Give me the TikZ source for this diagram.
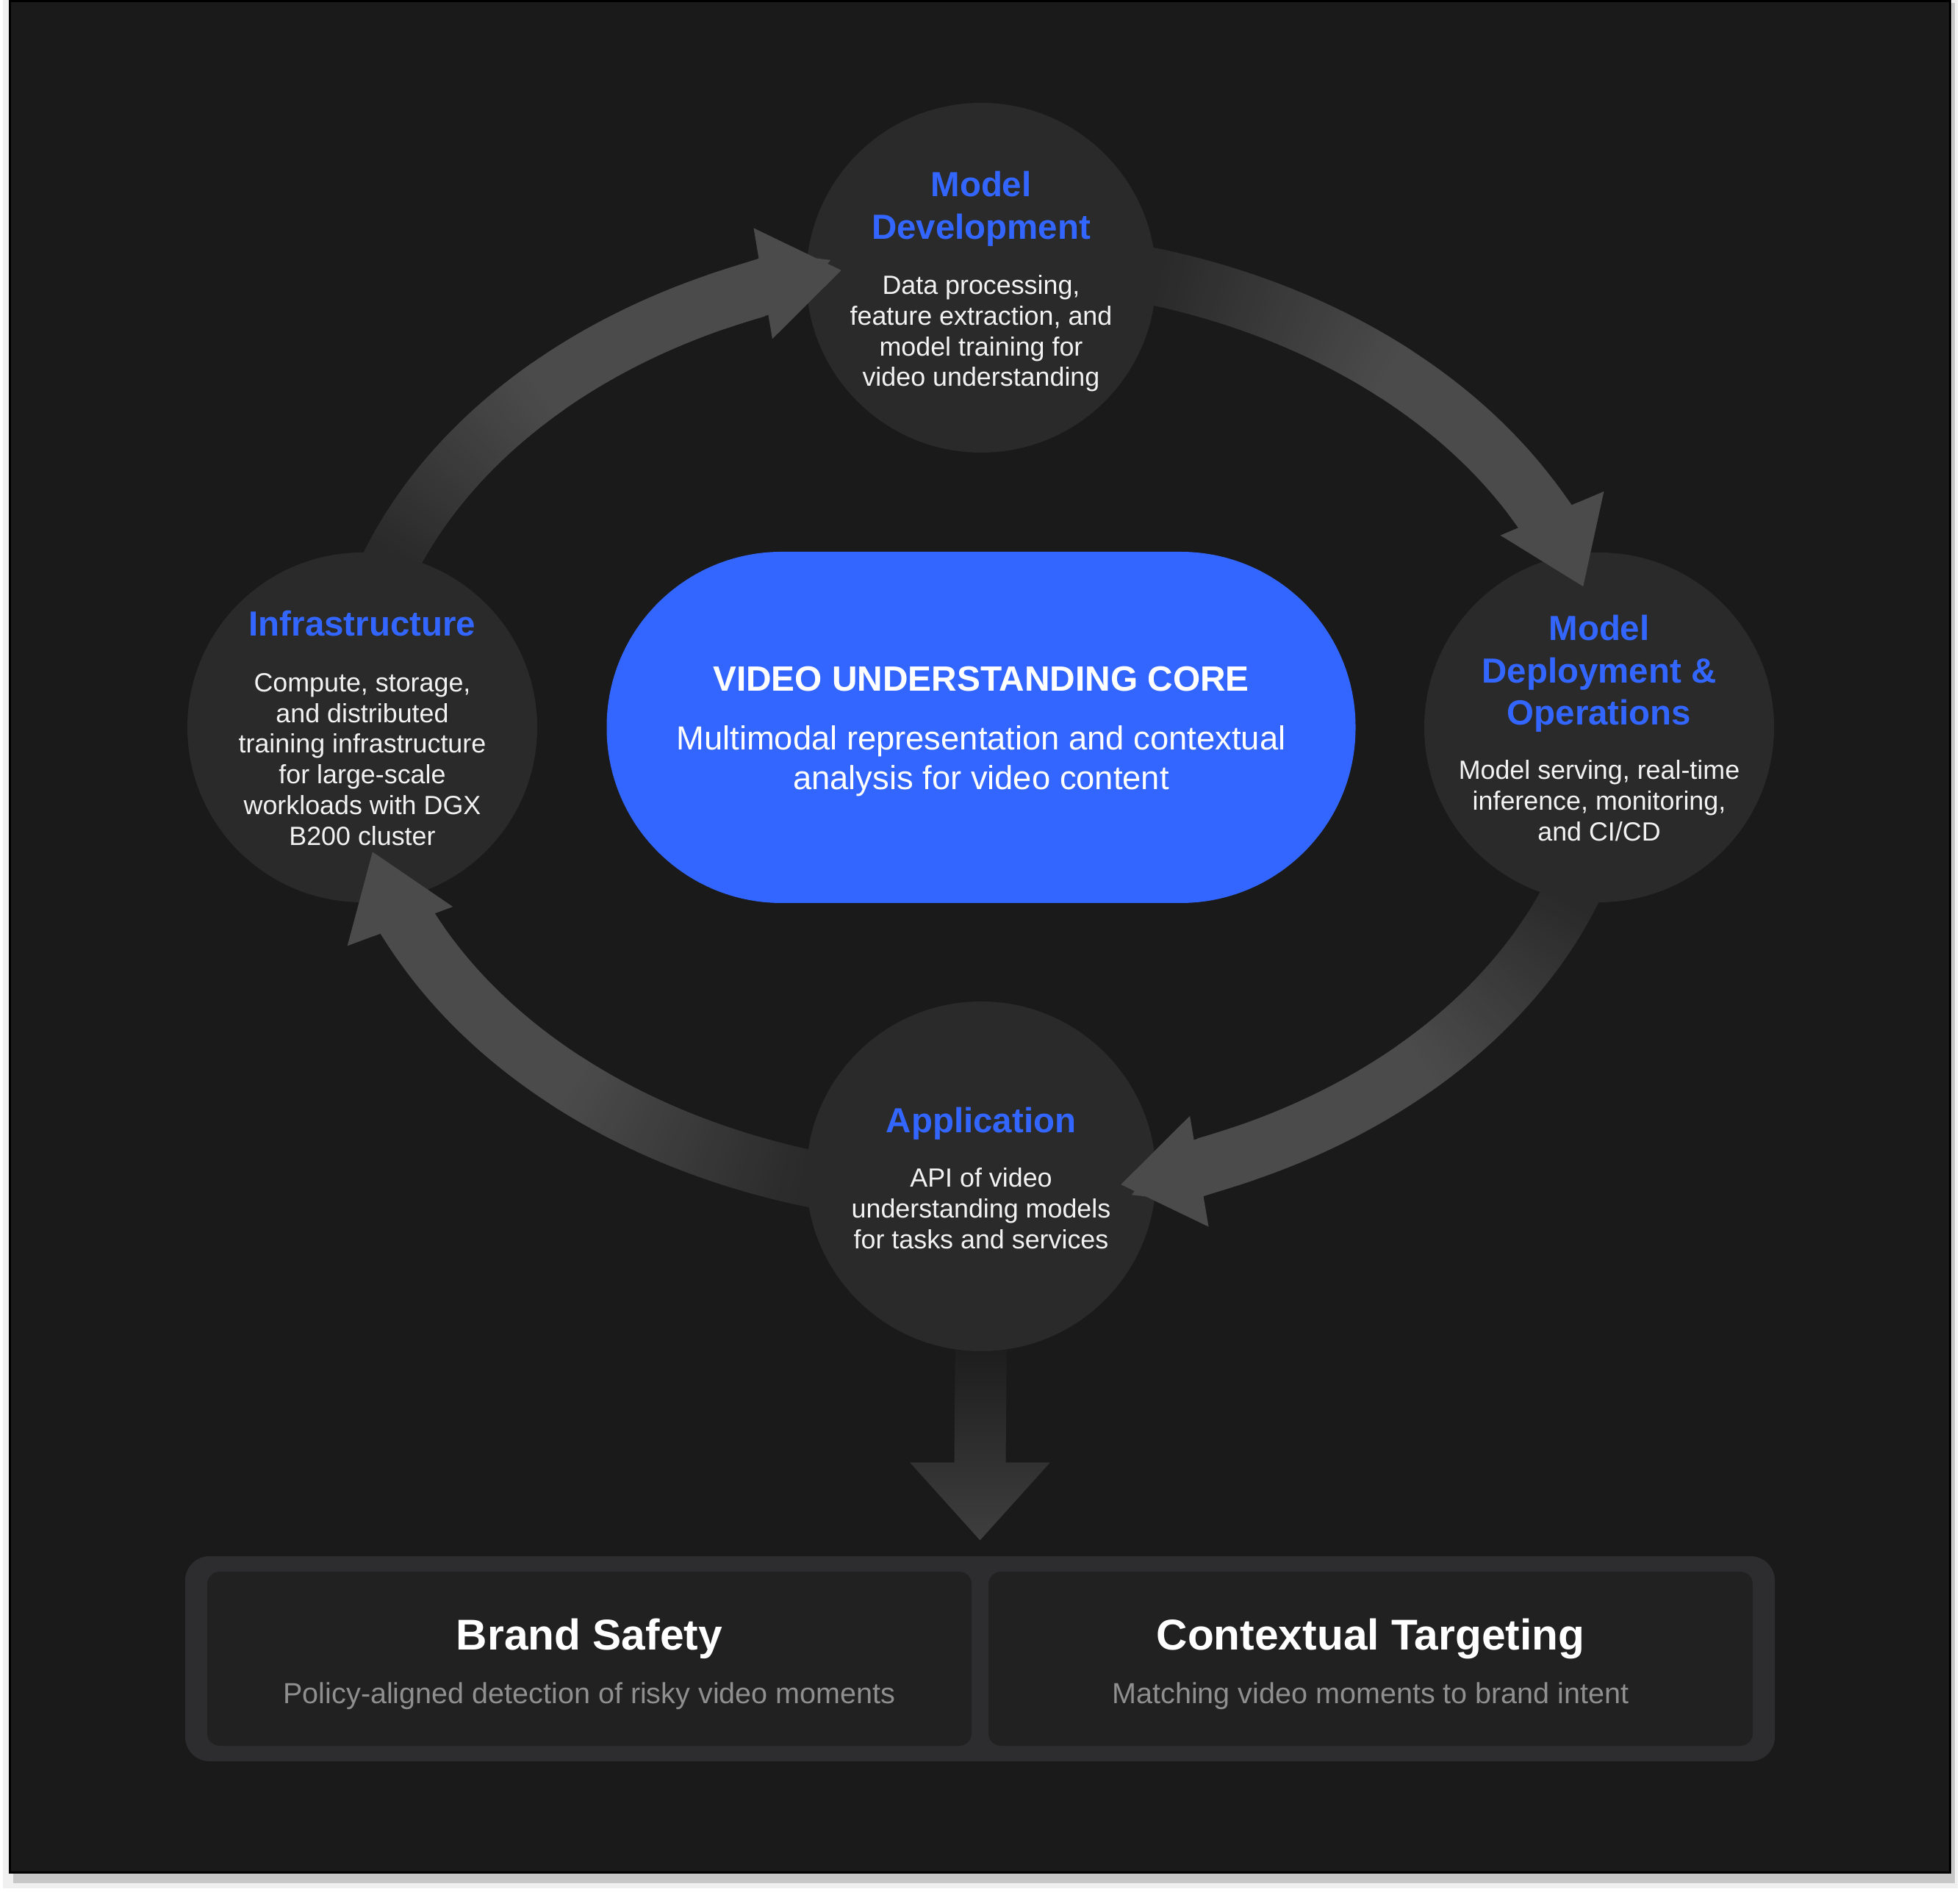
\documentclass[tikz,border=0pt]{standalone}
\usepackage{fontspec}
\setmainfont{Liberation Sans}
\usepackage{xcolor}
\usepackage{tikz}
\usetikzlibrary{arrows.meta, positioning, calc, backgrounds}

\definecolor{panelbg}{HTML}{1A1A1A}
\definecolor{ringgray}{HTML}{2A2A2A}
\definecolor{arrowgray}{HTML}{4B4B4B}
\definecolor{coreblue}{HTML}{3366FF}
\definecolor{titleblue}{HTML}{3366FF}
\definecolor{textwhite}{HTML}{F2F2F2}
\definecolor{trayfill}{HTML}{2D2C2E}
\definecolor{cardfill}{HTML}{212121}
\definecolor{subgray}{HTML}{8F8F8F}

\begin{document}
\begin{tikzpicture}[
    >=Stealth,
    stage/.style={circle, fill=ringgray, minimum size=4.76cm, inner sep=0pt},
    stitle/.style={align=center, inner sep=0pt, text=titleblue,
        font=\fontsize{13.5}{16.4}\selectfont\bfseries},
    sbody/.style={align=center, inner sep=0pt, text=textwhite,
        font=\fontsize{10.2}{11.9}\selectfont},
    corebox/.style={rectangle, rounded corners=2.38cm, fill=coreblue,
        minimum width=10.19cm, minimum height=4.78cm},
    ctitle/.style={inner sep=0pt, text=white, font=\fontsize{13.6}{16}\selectfont\bfseries},
    cbody/.style={align=center, inner sep=0pt, text=white,
        font=\fontsize{12.9}{15.3}\selectfont},
    tray/.style={rectangle, rounded corners=0.33cm, fill=trayfill,
        minimum width=21.63cm, minimum height=2.79cm},
    card/.style={rectangle, rounded corners=0.17cm, fill=cardfill,
        minimum width=10.4cm, minimum height=2.37cm},
    ktitle/.style={inner sep=0pt, text=white, font=\fontsize{16.7}{20}\selectfont\bfseries},
    ksub/.style={inner sep=0pt, text=subgray, font=\fontsize{11.25}{14}\selectfont},
    shaft/.style={line width=0.77cm, draw=arrowgray},
    head/.style={-{Triangle[length=1.08cm, width=1.53cm, line width=0pt]}},
]
\useasboundingbox (0,0) rectangle (26.67,25.74);

% cycle stages
\node[corebox] (core) at (13.35,15.84) {};
\node[stage] (dev) at (13.35,21.96) {};
\node[stage] (infra) at (4.93,15.84) {};
\node[stage] (ops) at (21.76,15.84) {};
\node[stage] (app) at (13.35,9.73) {};

% use cases
\node[tray] (base) at (13.335,3.165) {};
\node[card] (safe) at (8.02,3.165) {};
\node[card] (target) at (18.65,3.165) {};

\coordinate (dropTop) at ($(app.south)+(0,0.3)$);
\coordinate (dropTip) at ($(base.north)+(0,0.21)$);

\begin{scope}[on background layer]
    \fill[white] (0,0) rectangle (26.67,25.74);
    \fill[black!6] (0.04,0.04) rectangle (26.64,25.74);
    \fill[black!22] (0.18,0.11) rectangle (26.60,25.70);
    \filldraw[fill=panelbg, draw=black, line width=0.03cm] (0.13,0.255) rectangle (26.535,25.725);

    % curved shafts, fading out of the source stage
    \foreach \s/\e/\f in {180/158.5/102.8, 90/74/17.5, 0/-21.5/-77.2, 270/254/195.4} {
        \draw[shaft, draw=ringgray] (core.center) ++(\s:8.59cm and 6.38cm)
            arc[start angle=\s, end angle=\e-1, x radius=8.59cm, y radius=6.38cm];
        \foreach \k in {0,...,40} {
            \pgfmathsetmacro{\ta}{\e-0.6*\k}
            \pgfmathsetmacro{\pc}{100*\k/40}
            \draw[shaft, draw=arrowgray!\pc!ringgray] (core.center) ++({\ta}:8.59cm and 6.38cm)
                arc[start angle=\ta, end angle=\ta-1.2, x radius=8.59cm, y radius=6.38cm];
        }
        \draw[shaft] (core.center) ++({\e-24.4}:8.59cm and 6.38cm)
            arc[start angle=\e-24.4, end angle=\f+8, x radius=8.59cm, y radius=6.38cm];
    }

    \shade[top color=panelbg, bottom color=black!32!white!36!black]
        ($(dropTop)+(-0.35,0)$) -- ($(dropTop)+(0.35,0)$) -- ($(dropTip)+(0.35,1.06)$)
        -- ($(dropTip)+(0.955,1.06)$) -- (dropTip) -- ($(dropTip)+(-0.955,1.06)$)
        -- ($(dropTip)+(-0.35,1.06)$) -- cycle;
\end{scope}

% arrow heads over the target stages
\foreach \f in {102.8, 17.5, -77.2, 195.4}
    \draw[shaft, head] (core.center) ++({\f+12}:8.59cm and 6.38cm)
        arc[start angle=\f+12, end angle=\f, x radius=8.59cm, y radius=6.38cm];

\node[ctitle] (coreT) at ($(core)+(0,0.66)$) {VIDEO UNDERSTANDING CORE};
\node[cbody] (coreB) at ($(core)+(0,-0.455)$) {Multimodal representation and contextual\\analysis for video content};

\node[stitle] (devT) at ($(dev)+(0,0.94)$) {Model\\Development};
\node[sbody] (devB) at ($(dev)+(0,-0.76)$) {Data processing,\\feature extraction, and\\model training for\\video understanding};

\node[stitle] (infraT) at ($(infra)+(0,1.41)$) {Infrastructure};
\node[sbody] (infraB) at ($(infra)+(0,-0.435)$) {Compute, storage,\\and distributed\\training infrastructure\\for large-scale\\workloads with DGX\\B200 cluster};

\node[stitle] (opsT) at ($(ops)+(0,0.73)$) {Model\\Deployment \&\\Operations};
\node[sbody] (opsB) at ($(ops)+(0,-0.995)$) {Model serving, real-time\\inference, monitoring,\\and CI/CD};

\node[stitle] (appT) at ($(app)+(0,0.72)$) {Application};
\node[sbody] (appB) at ($(app)+(0,-0.435)$) {API of video\\understanding models\\for tasks and services};

\node[ktitle] (safeT) at ($(safe)+(0,0.275)$) {Brand Safety};
\node[ksub] (safeS) at ($(safe)+(0,-0.505)$) {Policy-aligned detection of risky video moments};
\node[ktitle] (targetT) at ($(target)+(0,0.275)$) {Contextual Targeting};
\node[ksub] (targetS) at ($(target)+(0,-0.505)$) {Matching video moments to brand intent};
\end{tikzpicture}
\end{document}
